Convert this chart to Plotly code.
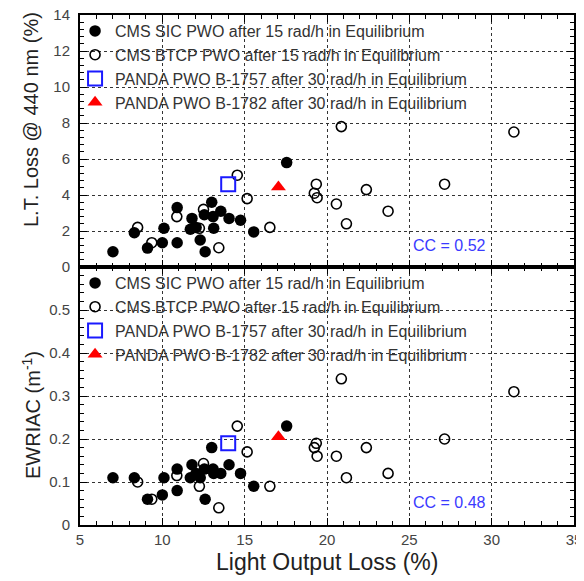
import plotly.graph_objects as go

# ---------------- data ----------------
sic_x = [7.0, 8.3, 9.1, 10.0, 10.1, 10.9, 10.9, 11.8, 11.7, 12.05, 12.3, 12.6, 12.55, 13.0, 13.08, 13.12, 13.55, 14.05, 14.75, 15.55, 17.55]
sic_lt = [0.85, 1.9, 1.05, 1.35, 2.15, 1.35, 3.3, 2.7, 2.1, 2.2, 1.5, 0.85, 2.9, 3.6, 2.8, 2.15, 3.1, 2.7, 2.6, 1.95, 5.8]
sic_ew = [0.11, 0.11, 0.06, 0.07, 0.11, 0.08, 0.13, 0.14, 0.11, 0.12, 0.11, 0.06, 0.13, 0.18, 0.13, 0.12, 0.12, 0.14, 0.12, 0.09, 0.23]

btcp_x = [8.5, 9.36, 10.88, 12.5, 12.25, 13.43, 14.55, 15.15, 16.53, 19.35, 19.23, 19.4, 20.57, 20.87, 21.18, 22.39, 23.71, 27.14, 31.35]
btcp_lt = [2.2, 1.35, 2.8, 3.2, 2.15, 1.07, 5.1, 3.8, 2.2, 4.6, 4.1, 3.85, 3.5, 7.8, 2.4, 4.3, 3.1, 4.6, 7.5]
btcp_ew = [0.10, 0.06, 0.115, 0.143, 0.09, 0.04, 0.23, 0.17, 0.09, 0.19, 0.18, 0.16, 0.16, 0.34, 0.11, 0.18, 0.12, 0.20, 0.31]

b1757_x = [14.0]
b1757_lt = [4.6]
b1757_ew = [0.19]

b1782_x = [17.05]
b1782_lt = [4.45]
b1782_ew = [0.205]

names = [
    "CMS SIC PWO after 15 rad/h in Equilibrium",
    "CMS BTCP PWO after 15 rad/h in Equilibrium",
    "PANDA PWO B-1757 after 30 rad/h in Equilibrium",
    "PANDA PWO B-1782 after 30 rad/h in Equilibrium",
]
cc_texts = ["CC = 0.52", "CC = 0.48"]
top_ticks = [0, 2, 4, 6, 8, 10, 12, 14]
bot_ticks = [0, 0.1, 0.2, 0.3, 0.4, 0.5]
x_ticks = [5, 10, 15, 20, 25, 30, 35]

FONT = "Arial, Liberation Sans, sans-serif"

markers = [
    dict(symbol="circle", size=11.5, color="black", line=dict(width=0)),
    dict(symbol="circle-open", size=10, color="black", line=dict(width=1.6, color="black")),
    dict(symbol="square-open", size=14, color="#1a1aff", line=dict(width=2, color="#1a1aff")),
    dict(symbol="triangle-up", size=13, color="#ff0000", line=dict(width=0)),
]

fig = go.Figure()
series_top = [(sic_x, sic_lt), (btcp_x, btcp_lt), (b1757_x, b1757_lt), (b1782_x, b1782_lt)]
series_bot = [(sic_x, sic_ew), (btcp_x, btcp_ew), (b1757_x, b1757_ew), (b1782_x, b1782_ew)]

for i, (xs, ys) in enumerate(series_top):
    fig.add_trace(go.Scatter(x=xs, y=ys, mode="markers", name=names[i], marker=markers[i],
                             xaxis="x2", yaxis="y2", legend="legend", legendgroup="t%d" % i))
for i, (xs, ys) in enumerate(series_bot):
    fig.add_trace(go.Scatter(x=xs, y=ys, mode="markers", name=names[i], marker=markers[i],
                             xaxis="x", yaxis="y", legend="legend2", legendgroup="b%d" % i))

PH = 510.0
split = 258 / PH

axis_common = dict(
    showline=True, linewidth=2, linecolor="black", mirror="ticks",
    ticks="inside", ticklen=7, tickwidth=1.2, tickcolor="black",
    showgrid=True, gridcolor="#333", griddash="dot", gridwidth=1,
    zeroline=False,
    tickfont=dict(family=FONT, size=15, color="#444"),
)
yextra = dict(ticklabeloverflow="allow", ticklabelstandoff=5)

# page body has an 8px margin: the figure is sized so the plot lands where the reference has it
fig.update_layout(
    width=576, height=573,
    margin=dict(l=72, r=10, t=7, b=56, autoexpand=False),
    paper_bgcolor="white", plot_bgcolor="white",
    showlegend=True,
    xaxis=dict(domain=[0, 1], range=[5, 35], tickvals=x_ticks, anchor="y",
               ticklabeloverflow="allow",
               minor=dict(dtick=1, ticklen=4, tickcolor="black", showgrid=False, ticks="inside"),
               **axis_common),
    xaxis2=dict(domain=[0, 1], range=[5, 35], tickvals=x_ticks, anchor="y2", matches="x",
                showticklabels=False,
                minor=dict(dtick=1, ticklen=4, tickcolor="black", showgrid=False, ticks="inside"),
                **axis_common),
    yaxis=dict(domain=[0, split], range=[0, 0.6], tickvals=bot_ticks, anchor="x",
               minor=dict(dtick=0.02, ticklen=4, tickcolor="black", showgrid=False, ticks="inside"),
               **yextra, **axis_common),
    yaxis2=dict(domain=[split, 1], range=[0, 14], tickvals=top_ticks, anchor="x2",
                minor=dict(dtick=0.4, ticklen=4, tickcolor="black", showgrid=False, ticks="inside"),
                **yextra, **axis_common),
    legend=dict(x=-0.01, xanchor="left", y=1 + 1 / PH, yanchor="top", yref="paper",
                bgcolor="rgba(0,0,0,0)", font=dict(family=FONT, size=16, color="#333"),
                tracegroupgap=0, itemsizing="trace"),
    legend2=dict(x=-0.01, xanchor="left", y=split + 1 / PH, yanchor="top", yref="paper",
                 bgcolor="rgba(0,0,0,0)", font=dict(family=FONT, size=16, color="#333"),
                 tracegroupgap=0, itemsizing="trace"),
)

annos = [
    dict(text=cc_texts[0], xref="x2", yref="y2", x=25.1, y=1.22, xanchor="left", yanchor="middle",
         showarrow=False, font=dict(family=FONT, size=16, color="#3a3aff")),
    dict(text=cc_texts[1], xref="x", yref="y", x=25.1, y=0.053, xanchor="left", yanchor="middle",
         showarrow=False, font=dict(family=FONT, size=16, color="#3a3aff")),
    dict(text="L.T. Loss @ 440 nm (%)", xref="paper", yref="paper", x=(31 - 80) / 494, y=(525 - 120) / PH,
         xanchor="center", yanchor="middle", textangle=-90, showarrow=False,
         font=dict(family=FONT, size=20, color="#222")),
    dict(text="EWRIAC (m<sup>-1</sup>)", xref="paper", yref="paper", x=(31 - 80) / 494, y=(525 - 415) / PH,
         xanchor="center", yanchor="middle", textangle=-90, showarrow=False,
         font=dict(family=FONT, size=20, color="#222")),
    dict(text="Light Output Loss (%)", xref="paper", yref="paper", x=0.5, y=(525 - 562) / PH,
         xanchor="center", yanchor="middle", showarrow=False,
         font=dict(family=FONT, size=23, color="#222")),
]
fig.update_layout(annotations=annos)

fig.write_html("out.html")
